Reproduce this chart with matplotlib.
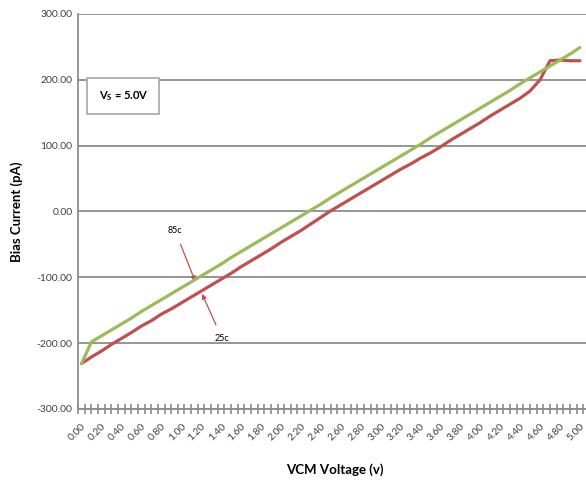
import matplotlib
matplotlib.use("Agg")
import matplotlib.pyplot as plt
from matplotlib.ticker import FixedLocator

plt.rcParams['font.family'] = ['Lato', 'DejaVu Sans']

vcm = [round(0.1 * i, 1) for i in range(51)]
bias_85c = [-231, -198, -189, -180, -171, -162, -152, -143, -134, -125,
            -116, -107, -98, -89, -80, -70, -61, -52, -43, -34,
            -25, -16, -7, 2, 11, 21, 30, 39, 48, 57,
            66, 75, 84, 93, 102, 112, 121, 130, 139, 148,
            157, 166, 175, 184, 194, 203, 212, 221, 230, 239, 249]
bias_25c = [-231, -221, -212, -202, -193, -184, -174, -166, -156, -148,
            -139, -130, -121, -112, -103, -94, -84, -75, -66, -57,
            -47, -38, -29, -19, -9, 1, 10, 19, 28, 37,
            46, 55, 64, 72, 81, 89, 98, 108, 117, 126,
            135, 145, 154, 163, 172, 183, 200, 229, 230, 229, 229]
xtick_labels = ["%.2f" % (0.2 * i) for i in range(26)]
ytick_vals = [-300, -200, -100, 0, 100, 200, 300]

fig = plt.figure(figsize=(5.86, 4.86), dpi=100)
ax = fig.add_axes([78/586, 1 - 409/486, 1 - 78/586 + 0.01, (409 - 14)/486])

green = '#9BBB59'
red = '#C0504D'
ax.plot(vcm, bias_25c, color=red, lw=2.3, solid_capstyle='round', zorder=3)
ax.plot(vcm, bias_85c, color=green, lw=2.3, solid_capstyle='round', zorder=4)

ax.set_xlim(-0.035, 5.12)
ax.set_ylim(-300, 300)
ax.set_yticks(ytick_vals)
ax.set_yticklabels(["%.2f" % v for v in ytick_vals], fontsize=7.5, color='#404040')
ax.yaxis.grid(True, color='#8C8C8C', lw=1.3)
ax.set_axisbelow(True)

ax.xaxis.set_major_locator(FixedLocator([0.2 * i for i in range(26)]))
ax.set_xticklabels(xtick_labels, rotation=45, ha='right', va='top', fontsize=7.5,
                   color='#404040', rotation_mode='anchor')
ax.xaxis.set_minor_locator(FixedLocator([i * (1/15) - 1/30 for i in range(78)]))
ax.tick_params(axis='x', which='both', direction='inout', length=7, width=1.2,
               color='#8C8C8C', pad=6)
ax.tick_params(axis='x', which='major', length=0, pad=9)
ax.tick_params(axis='y', which='both', length=0, pad=4)

for s in ['top', 'right']:
    ax.spines[s].set_visible(False)
for s in ['left', 'bottom']:
    ax.spines[s].set_color('#8C8C8C')
    ax.spines[s].set_linewidth(1.3)

ax.set_ylabel("Bias Current (pA)", fontsize=9.5, fontweight='bold', labelpad=10)
fig.text(335/586, 1 - 470/486, "VCM Voltage (v)", fontsize=9.5, fontweight='bold',
         ha='center', va='center')

ax.text(0.42, 176, r"V$_\mathregular{S}$ = 5.0V", fontsize=8, fontweight='bold',
        ha='center', va='center',
        bbox=dict(boxstyle='square,pad=1.0', fc='white', ec='#A6A6A6', lw=1.2))

ax.annotate("85c", xy=(1.14, -106), xytext=(0.94, -29), fontsize=6.5,
            ha='center', va='center',
            arrowprops=dict(arrowstyle='-|>', color=red, lw=0.9, shrinkA=5, shrinkB=0,
                            mutation_scale=7))
ax.annotate("25c", xy=(1.21, -125), xytext=(1.41, -193), fontsize=6.5,
            ha='center', va='center',
            arrowprops=dict(arrowstyle='-|>', color=red, lw=0.9, shrinkA=5, shrinkB=0,
                            mutation_scale=7))

fig.savefig("out.png", dpi=100)
